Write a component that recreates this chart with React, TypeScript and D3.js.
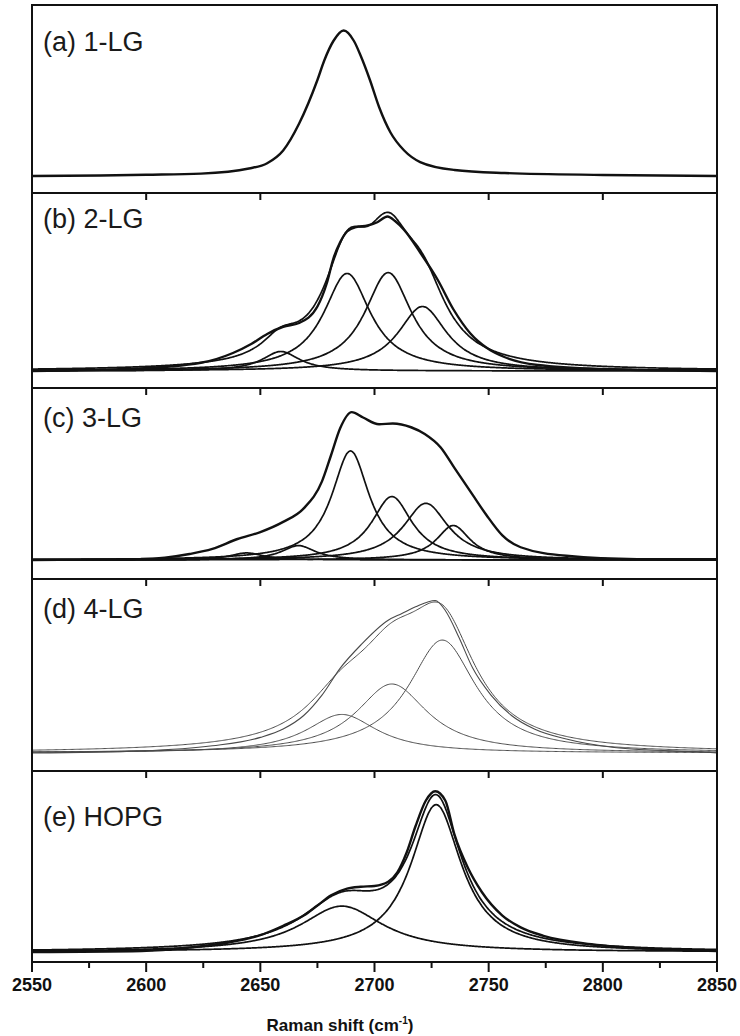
import React from 'react'
import * as d3 from 'd3'

// Raman shift axis
const xTicks = [2550, 2600, 2650, 2700, 2750, 2800, 2850]
const xMinorTicks = [2575, 2625, 2675, 2725, 2775, 2825]
const panelLabels = ['(a) 1-LG', '(b) 2-LG', '(c) 3-LG', '(d) 4-LG', '(e) HOPG']

// measured 2D band, [shift (cm-1), intensity (a.u.)]
const spectrum1LG = [
  [2550, 0], [2580, 0.3], [2600, 0.8], [2624, 1.6], [2645, 5], [2653, 8.5], [2660, 17],
  [2667, 35], [2675, 64], [2678, 77], [2682, 90], [2686.5, 97], [2691, 90], [2694, 80],
  [2698, 64], [2702, 46], [2707, 29], [2713, 17], [2720, 9.3], [2735, 4], [2757, 2],
  [2800, 0.7], [2850, 0]
]
const spectrum2LG = [
  [2550, 0], [2594, 1.5], [2624, 5.5], [2638, 12], [2646, 18], [2653, 24.7], [2660, 29.5],
  [2667, 32], [2675, 43], [2679, 58], [2682, 75], [2685, 86], [2688, 93], [2692, 96],
  [2697, 97], [2701, 99], [2705.7, 103], [2709, 100], [2713, 94], [2720, 79], [2727.6, 61],
  [2734.6, 41], [2742, 25], [2749.6, 15], [2756.6, 9.5], [2771.5, 4], [2800, 1.3], [2850, 0]
]
const spectrum3LG = [
  [2550, 0], [2598, 0.6], [2619, 4], [2629, 7.4], [2640, 14], [2650, 18.6], [2660, 25.4],
  [2669, 34.4], [2677, 52.4], [2681, 70], [2685, 88], [2690, 98.6], [2695, 95], [2702, 90.5],
  [2708, 91], [2716, 88.5], [2722, 84], [2729, 75], [2735, 61.4], [2743, 43.4], [2749, 30],
  [2756, 16.4], [2764, 8.5], [2784, 2.8], [2815, 0.6], [2850, 0.5]
]
const spectrum4LG = [
  [2550, 0], [2598, 1.4], [2629, 4.8], [2650, 10.4], [2660, 16], [2669, 25], [2677, 38.6],
  [2685, 56.6], [2694, 72], [2706, 88.5], [2712, 93], [2718, 97.5], [2726.6, 101.7],
  [2731, 95], [2737, 77], [2743, 56.6], [2751, 38.6], [2760, 25], [2770, 16], [2784, 9.3],
  [2805, 3.7], [2847, 0.3], [2850, 0]
]
const spectrumHOPG = [
  [2550, 0], [2598, 0.7], [2619, 3], [2636, 6.3], [2650, 11.2], [2660, 17.5], [2669, 24.3],
  [2675, 31], [2681, 37.8], [2688, 42.3], [2694, 43.5], [2700, 44], [2706, 46.8],
  [2710, 53], [2714, 66], [2718, 84], [2722.5, 101], [2726.6, 107.2], [2731, 101],
  [2735, 78.4], [2741, 55.8], [2747, 40], [2756, 24.3], [2764, 16.4], [2774, 10.8],
  [2795, 5.2], [2826, 1.8], [2850, 0.7]
]

// Lorentzian fit components, [centre, height, half width]
const peaks2LG = [[2659, 13, 10], [2688, 65, 12.5], [2706, 65.6, 12.5], [2721, 43, 13]]
const peaks3LG = [
  [2644, 4.7, 9], [2666.7, 9.6, 9], [2689.5, 72.7, 10], [2707.6, 42.3, 10.8],
  [2722.5, 37.8, 12], [2734.5, 23, 9]
]
const peaks4LG = [[2685.7, 25.7, 19], [2707.6, 46, 19], [2729.7, 75.3, 18]]
const peaksHOPG = [[2685.7, 30.6, 22], [2727, 98.2, 13.5]]

const W = 740
const H = 1036
const left = 32
const right = 717
const edges = [5, 193, 388, 579, 771, 962]
const baselines = [176, 371, 560, 753, 952]
const labelY = [51, 228, 427, 618, 826]

const panels = [
  { data: spectrum1LG, peaks: [], fit: false, thin: false },
  { data: spectrum2LG, peaks: peaks2LG, fit: true, thin: false },
  { data: spectrum3LG, peaks: peaks3LG, fit: false, thin: false },
  { data: spectrum4LG, peaks: peaks4LG, fit: true, thin: true },
  { data: spectrumHOPG, peaks: peaksHOPG, fit: true, thin: false }
]

const x = d3.scaleLinear().domain([2550, 2850]).range([left, right])
const grid = d3.range(2550, 2850.01, 0.5)
const lorentz = (w: number, p: number[]) => p[1] / (1 + ((w - p[0]) / p[2]) ** 2)

function Panel({ p, i }: { p: any; i: number }) {
  const y = d3.scaleLinear().domain([0, 100]).range([baselines[i], baselines[i] - 150])
  const line = d3.line<number[]>()
    .x(d => x(d[0]))
    .y(d => y(d[1]))
    .curve(d3.curveMonotoneX)
  const color = p.thin ? '#4a4a4a' : '#111'
  const compWidth = p.thin ? 1 : 1.7
  const dataWidth = p.thin ? 1.1 : 2.4
  const fitSum = grid.map(w => [w, d3.sum(p.peaks, (pk: number[]) => lorentz(w, pk))])
  return (
    <g clipPath={`url(#clip${i})`}>
      <clipPath id={`clip${i}`}>
        <rect x={left} y={edges[i]} width={right - left} height={edges[i + 1] - edges[i]} />
      </clipPath>
      {p.peaks.map((pk: number[], k: number) => (
        <path key={k} d={line(grid.map(w => [w, lorentz(w, pk)])) || ''}
          fill="none" stroke={color} strokeWidth={compWidth} />
      ))}
      {p.fit && (
        <path d={line(fitSum) || ''} fill="none" stroke={color} strokeWidth={compWidth} />
      )}
      <path d={line(p.data) || ''} fill="none" stroke={color} strokeWidth={dataWidth}
        strokeLinejoin="round" />
    </g>
  )
}

export default function App() {
  const inner = xTicks.filter(t => t > 2550 && t < 2850)
  const axisY = edges[5]
  return (
    <svg width={W} height={H} style={{ position: 'absolute', left: 0, top: 0, background: '#fff' }}
      fontFamily="'Liberation Sans', Arial, sans-serif">
      {panels.map((p, i) => <Panel key={i} p={p} i={i} />)}

      {/* frames */}
      <rect x={left} y={edges[0]} width={right - left} height={edges[5] - edges[0]}
        fill="none" stroke="#111" strokeWidth={2} />
      {edges.slice(1, 5).map((e, i) => (
        <g key={i}>
          <line x1={left} x2={right} y1={e} y2={e} stroke="#111" strokeWidth={2} />
          {inner.map(t => (
            <line key={t} x1={x(t)} x2={x(t)} y1={e} y2={e + 7} stroke="#111" strokeWidth={2} />
          ))}
        </g>
      ))}

      {/* bottom axis */}
      {xTicks.map(t => (
        <g key={t}>
          <line x1={x(t)} x2={x(t)} y1={axisY} y2={axisY + 10} stroke="#111" strokeWidth={2} />
          <text x={x(t)} y={991} textAnchor="middle" fontSize={18} fontWeight="bold" fill="#111">{t}</text>
        </g>
      ))}
      {xMinorTicks.map(t => (
        <line key={t} x1={x(t)} x2={x(t)} y1={axisY} y2={axisY + 6} stroke="#111" strokeWidth={2} />
      ))}
      <text x={340} y={1031} textAnchor="middle" fontSize={17} fontWeight="bold" fill="#111">
        Raman shift (cm<tspan fontSize={10} dy={-7}>-1</tspan><tspan dy={7}>)</tspan>
      </text>

      {panelLabels.map((l, i) => (
        <text key={l} x={43} y={labelY[i]} fontSize={27} fill="#1a1a1a">{l}</text>
      ))}
    </svg>
  )
}
